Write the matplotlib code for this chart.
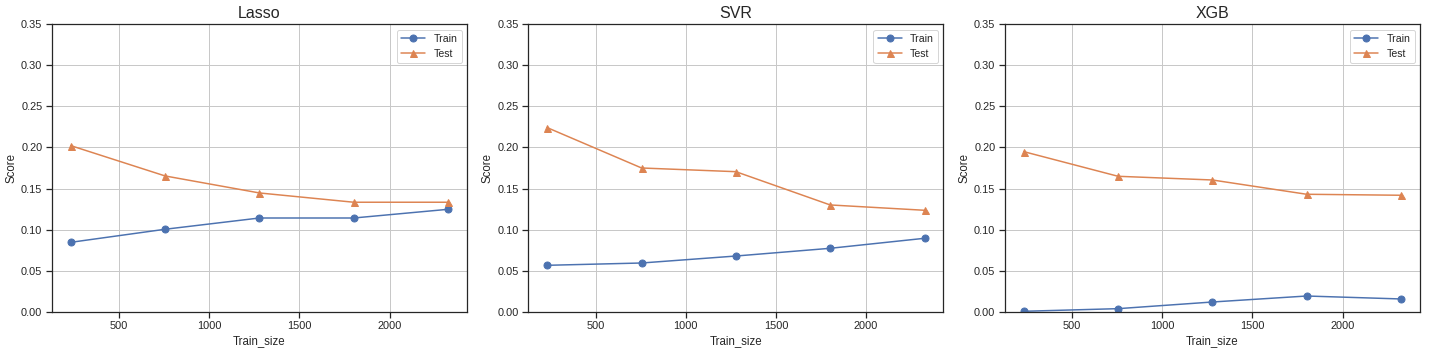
import matplotlib
matplotlib.use("Agg")
import matplotlib.pyplot as plt
import seaborn as sns

sns.set_style("ticks")
plt.rcParams['font.family'] = ['Liberation Sans', 'DejaVu Sans']

train_sizes = [232, 755, 1278, 1801, 2325]
models = ["Lasso", "SVR", "XGB"]
lasso_train = [0.0845, 0.1004, 0.1141, 0.1141, 0.1247]
lasso_test = [0.2022, 0.1653, 0.1446, 0.1333, 0.1333]
svr_train = [0.0565, 0.0593, 0.0678, 0.0772, 0.0894]
svr_test = [0.2241, 0.1750, 0.1705, 0.1300, 0.1235]
xgb_train = [0.0005, 0.0037, 0.0118, 0.0191, 0.0155]
xgb_test = [0.1949, 0.1649, 0.1604, 0.1430, 0.1418]
y_ticks = [0.00, 0.05, 0.10, 0.15, 0.20, 0.25, 0.30, 0.35]

train_scores = [lasso_train, svr_train, xgb_train]
test_scores = [lasso_test, svr_test, xgb_test]

blue = "#4C72B0"
orange = "#DD8452"

fig, axes = plt.subplots(1, 3, figsize=(1432 / 72, 352 / 72), dpi=72)
fig.subplots_adjust(left=0.0363, right=0.9916, top=0.931, bottom=0.1145, wspace=0.148)

for ax, name, tr, te in zip(axes, models, train_scores, test_scores):
    ax.plot(train_sizes, tr, marker='o', color=blue, label='Train', markersize=7, linewidth=1.5)
    ax.plot(train_sizes, te, marker='^', color=orange, label='Test', markersize=7, linewidth=1.5)
    ax.set_ylim(0, 0.35)
    ax.set_yticks(y_ticks)
    ax.set_title(name, fontsize=16)
    ax.set_xlabel("Train_size", fontsize=11.5)
    ax.set_ylabel("Score", fontsize=11.5)
    ax.tick_params(labelsize=11, length=6, width=1.25, color='#262626')
    ax.grid(True, color='#c8c8c8', linewidth=1)
    ax.set_axisbelow(True)
    for s in ax.spines.values():
        s.set_color('#262626')
        s.set_linewidth(1.25)
    ax.legend(loc='upper right', fontsize=10.5, handlelength=2.3)

fig.savefig("out.png", dpi=72)
